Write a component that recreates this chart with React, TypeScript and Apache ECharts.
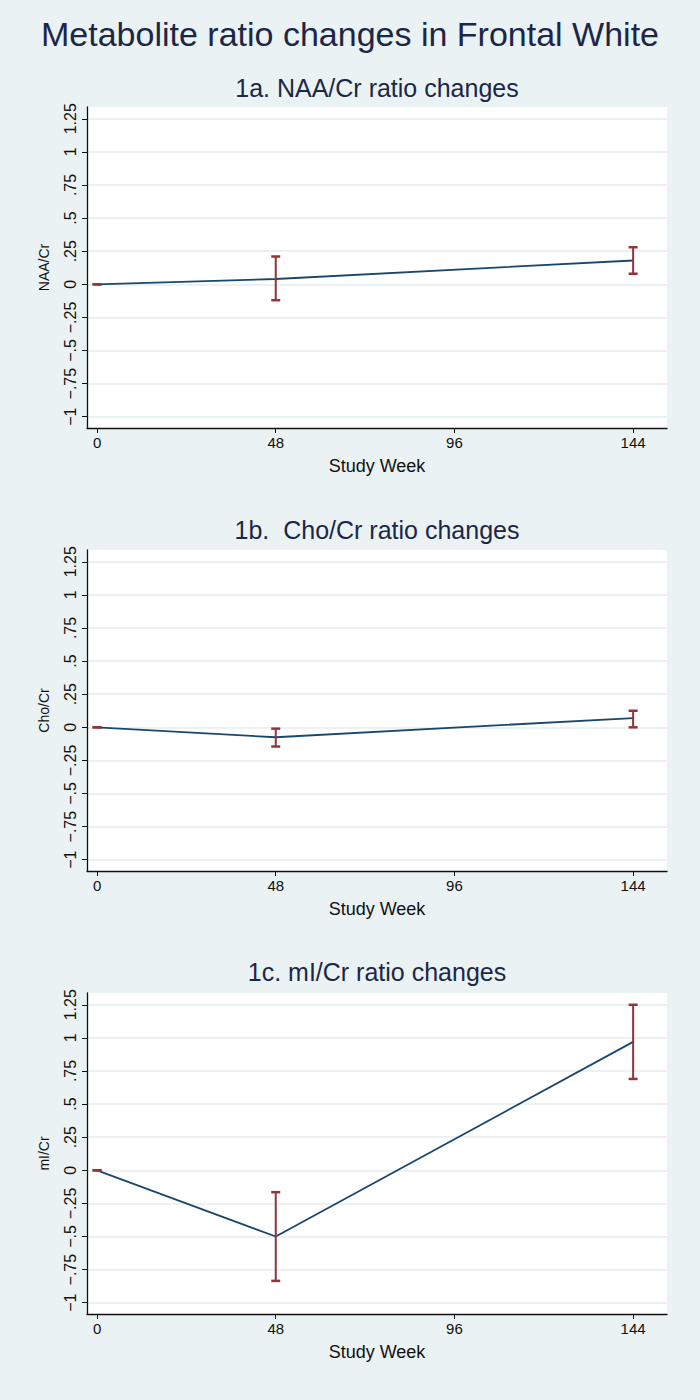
import React, { useEffect, useRef } from "react";
import * as echarts from "echarts";

const weeks = [0, 48, 144];
const xTickValues = [0, 48, 96, 144];
const yTickValues = [-1, -0.75, -0.5, -0.25, 0, 0.25, 0.5, 0.75, 1, 1.25];
const yTickLabels = ["−1", "−.75", "−.5", "−.25", "0", ".25", ".5", ".75", "1", "1.25"];

const naaMean = [0, 0.04, 0.18];
const naaLow = [0, -0.12, 0.08];
const naaHigh = [0, 0.21, 0.28];

const choMean = [0, -0.075, 0.07];
const choLow = [0, -0.145, 0.0];
const choHigh = [0, -0.01, 0.125];

const miMean = [0, -0.5, 0.97];
const miLow = [0, -0.835, 0.69];
const miHigh = [0, -0.165, 1.25];

const mainTitle = "Metabolite ratio changes in Frontal White";
const panelTitles = ["1a. NAA/Cr ratio changes", "1b.  Cho/Cr ratio changes", "1c. mI/Cr ratio changes"];
const yNames = ["NAA/Cr", "Cho/Cr", "mI/Cr"];
const xName = "Study Week";

const panels = [
  { mean: naaMean, low: naaLow, high: naaHigh },
  { mean: choMean, low: choLow, high: choHigh },
  { mean: miMean, low: miLow, high: miHigh },
];

const FONT = "Liberation Sans";
const NAVY = "#1a476f";
const MAROON = "#90353b";
const TITLE_COLOR = "#1c2748";
const GRID_TOPS = [107, 550, 993];
const GRID_LEFT = 87;
const GRID_W = 580;
const GRID_H = 321;

function fmtY(v: number): string {
  const i = yTickValues.findIndex((t) => Math.abs(t - v) < 1e-6);
  return i >= 0 ? yTickLabels[i] : "";
}

export default function App() {
  const ref = useRef<HTMLDivElement>(null);
  useEffect(() => {
    document.body.style.margin = "0";
    if (!ref.current) return;
    const chart = echarts.init(ref.current, undefined, { renderer: "svg" });

    const grids = GRID_TOPS.map((top) => ({
      left: GRID_LEFT,
      top,
      width: GRID_W,
      height: GRID_H,
      show: true,
      backgroundColor: "#ffffff",
      borderWidth: 0,
    }));

    const xAxes = GRID_TOPS.map((_, i) => ({
      type: "value",
      gridIndex: i,
      min: -2.7,
      max: 153.1,
      axisLine: { show: true, onZero: false, lineStyle: { color: "#111", width: 1.3 } },
      axisTick: { show: true, customValues: xTickValues, length: 5, lineStyle: { color: "#111" } },
      axisLabel: { customValues: xTickValues, color: "#111", fontSize: 15, fontFamily: FONT, margin: 7 },
      splitLine: { show: false },
      name: xName,
      nameLocation: "middle",
      nameGap: 29,
      nameTextStyle: { color: "#111", fontSize: 18, fontFamily: FONT },
    }));

    const yAxes = GRID_TOPS.map((_, i) => ({
      type: "value",
      gridIndex: i,
      min: -1.085,
      max: 1.339,
      axisLine: { show: true, onZero: false, lineStyle: { color: "#111", width: 1.3 } },
      axisTick: { show: true, customValues: yTickValues, length: 5, lineStyle: { color: "#111" } },
      axisLabel: {
        customValues: yTickValues,
        rotate: 90,
        color: "#111",
        fontSize: 16,
        fontFamily: FONT,
        margin: 9,
        formatter: (v: number) => fmtY(v),
      },
      splitLine: { show: true, lineStyle: { color: "#e6eef0", width: 1.5 } },
      name: yNames[i],
      nameLocation: "middle",
      nameRotate: 90,
      nameGap: 36,
      nameTextStyle: { color: "#111", fontSize: 14, fontFamily: FONT },
    }));

    const series: any[] = [];
    panels.forEach((p, i) => {
      series.push({
        type: "line",
        xAxisIndex: i,
        yAxisIndex: i,
        data: weeks.map((w, k) => [w, p.mean[k]]),
        showSymbol: false,
        symbol: "none",
        lineStyle: { color: NAVY, width: 1.8 },
        z: 2,
      });
      series.push({
        type: "custom",
        xAxisIndex: i,
        yAxisIndex: i,
        z: 3,
        data: weeks.map((w, k) => [w, p.low[k], p.high[k]]),
        renderItem: (params: any, api: any) => {
          const x = api.value(0);
          const lo = api.coord([x, api.value(1)]);
          const hi = api.coord([x, api.value(2)]);
          const w = 4.5;
          const style = { stroke: MAROON, lineWidth: 2 };
          return {
            type: "group",
            children: [
              { type: "line", shape: { x1: lo[0], y1: lo[1], x2: hi[0], y2: hi[1] }, style },
              { type: "line", shape: { x1: lo[0] - w, y1: lo[1], x2: lo[0] + w, y2: lo[1] }, style: { stroke: MAROON, lineWidth: 2.5 } },
              { type: "line", shape: { x1: hi[0] - w, y1: hi[1], x2: hi[0] + w, y2: hi[1] }, style: { stroke: MAROON, lineWidth: 2.5 } },
            ],
          };
        },
      });
    });

    const titles: any[] = [
      {
        text: mainTitle,
        left: 350,
        top: 17,
        textAlign: "center",
        padding: 0,
        textStyle: { color: TITLE_COLOR, fontSize: 34, fontWeight: "normal", fontFamily: FONT },
      },
      ...panelTitles.map((t, i) => ({
        text: t,
        left: GRID_LEFT + GRID_W / 2,
        top: [75, 517, 959][i],
        textAlign: "center",
        padding: 0,
        textStyle: { color: TITLE_COLOR, fontSize: 25, fontWeight: "normal", fontFamily: FONT },
      })),
    ];

    chart.setOption({
      animation: false,
      backgroundColor: "#eaf2f3",
      title: titles,
      grid: grids,
      xAxis: xAxes,
      yAxis: yAxes,
      series,
    });
    return () => chart.dispose();
  }, []);
  return <div ref={ref} style={{ width: 700, height: 1400 }} />;
}
